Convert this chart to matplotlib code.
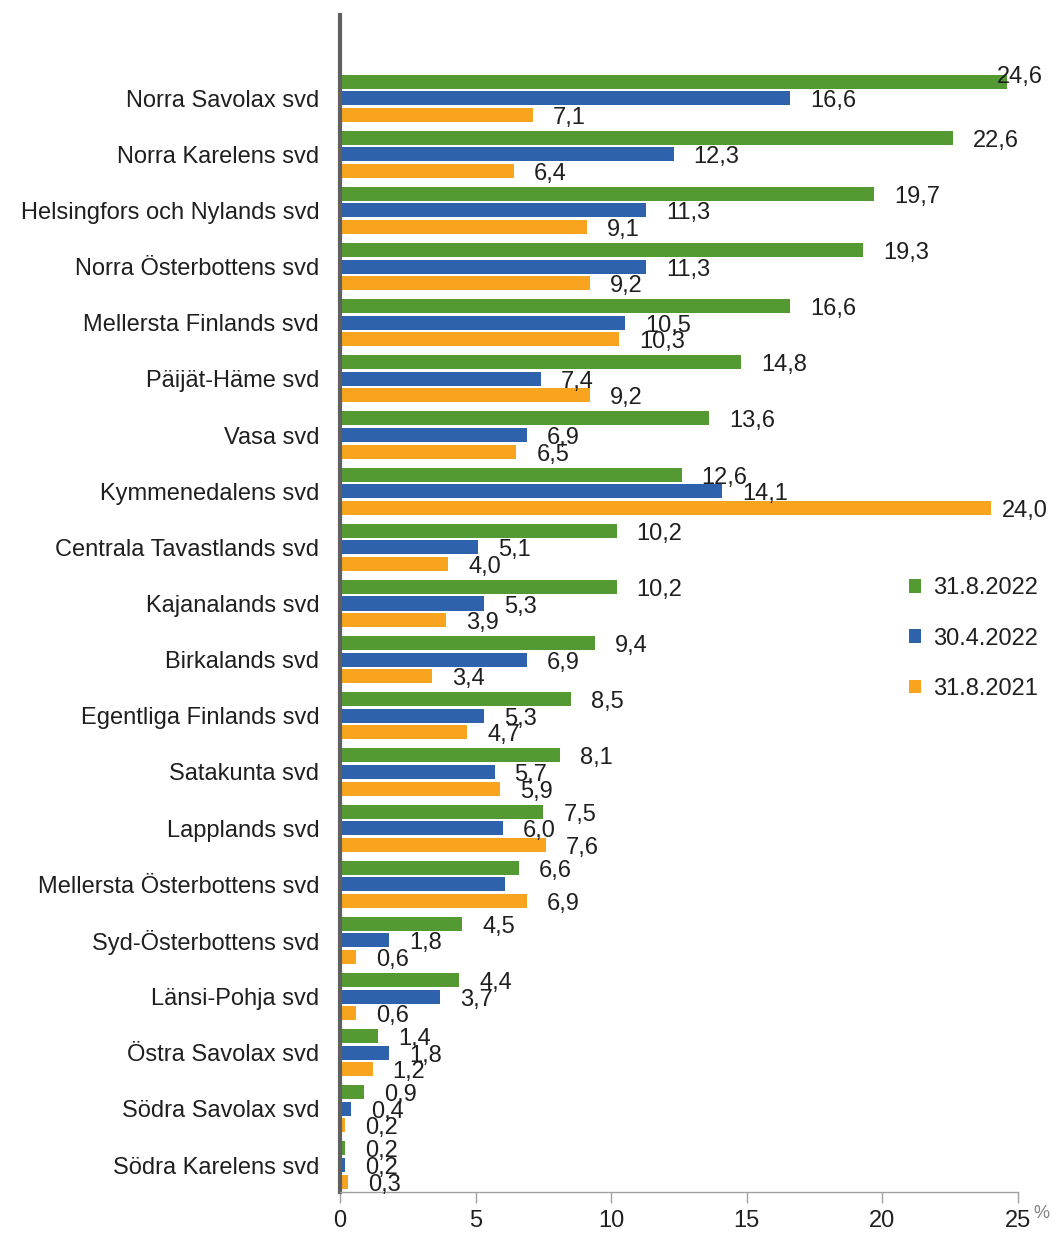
import matplotlib
matplotlib.use("Agg")
import matplotlib.pyplot as plt
import numpy as np

plt.rcParams['font.family'] = ['Liberation Sans', 'DejaVu Sans']

categories = ["Norra Savolax svd", "Norra Karelens svd", "Helsingfors och Nylands svd",
              "Norra Österbottens svd", "Mellersta Finlands svd", "Päijät-Häme svd",
              "Vasa svd", "Kymmenedalens svd", "Centrala Tavastlands svd", "Kajanalands svd",
              "Birkalands svd", "Egentliga Finlands svd", "Satakunta svd", "Lapplands svd",
              "Mellersta Österbottens svd", "Syd-Österbottens svd", "Länsi-Pohja svd",
              "Östra Savolax svd", "Södra Savolax svd", "Södra Karelens svd"]
aug2022 = [24.6, 22.6, 19.7, 19.3, 16.6, 14.8, 13.6, 12.6, 10.2, 10.2,
           9.4, 8.5, 8.1, 7.5, 6.6, 4.5, 4.4, 1.4, 0.9, 0.2]
apr2022 = [16.6, 12.3, 11.3, 11.3, 10.5, 7.4, 6.9, 14.1, 5.1, 5.3,
           6.9, 5.3, 5.7, 6.0, 6.1, 1.8, 3.7, 1.8, 0.4, 0.2]
aug2021 = [7.1, 6.4, 9.1, 9.2, 10.3, 9.2, 6.5, 24.0, 4.0, 3.9,
           3.4, 4.7, 5.9, 7.6, 6.9, 0.6, 0.6, 1.2, 0.2, 0.3]
# labels shown in the chart (None = no visible label)
aug2022_labels = aug2022
apr2022_labels = [16.6, 12.3, 11.3, 11.3, 10.5, 7.4, 6.9, 14.1, 5.1, 5.3,
                  6.9, 5.3, 5.7, 6.0, None, 1.8, 3.7, 1.8, 0.4, 0.2]
aug2021_labels = aug2021
series_names = ["31.8.2022", "30.4.2022", "31.8.2021"]
colors = ["#539A33", "#2F62AD", "#F8A41E"]
xticks = [0, 5, 10, 15, 20, 25]

W, H = 1053, 1233
fig = plt.figure(figsize=(W / 100, H / 100), dpi=100)
ax = fig.add_axes([340 / W, 1 - 1192 / H, (1018 - 340) / W, (1192 - 15) / H])

n = len(categories)
y = -np.arange(n)
off = 0.295
hgt = 0.25
series = [aug2022, apr2022, aug2021]
labels = [aug2022_labels, apr2022_labels, aug2021_labels]
offsets = [off, 0, -off]
fs = 17
txtc = '#1f1f1f'
for vals, labs, o, c, name in zip(series, labels, offsets, colors, series_names):
    ax.barh(y + o, vals, height=hgt, color=c, label=name, edgecolor='none')
    for yy, v, lv in zip(y + o, vals, labs):
        if lv is None:
            continue
        if v < 23.5:
            dx, dy = 20, -3
        elif c == colors[0]:
            dx, dy = -10, 5
        else:
            dx, dy = 11, -3
        ax.annotate(f"{lv:.1f}".replace('.', ','), xy=(v, yy), xytext=(dx, dy),
                    textcoords='offset pixels', ha='left', va='center',
                    fontsize=fs, color=txtc, annotation_clip=False)

ax.set_xlim(0, 25)
ax.set_ylim(-19.48, 1.48)
ax.set_yticks(y)
ax.set_yticklabels(categories, fontsize=fs, color=txtc)
ax.tick_params(axis='y', length=0, pad=15)
ax.set_xticks(xticks)
ax.set_xticklabels([str(t) for t in xticks], fontsize=fs, color=txtc)
ax.tick_params(axis='x', length=8, width=1, color='#a0a0a0', pad=5)
ax.spines['top'].set_visible(False)
ax.spines['right'].set_visible(False)
ax.spines['left'].set_color('#606060')
ax.spines['left'].set_linewidth(3)
ax.spines['bottom'].set_color('#a0a0a0')
ax.spines['bottom'].set_linewidth(1)

fig.text(1033 / W, 1 - 1213 / H, "%", fontsize=13, color='#808080', ha='left', va='center')

leg = ax.legend(loc='upper left', bbox_to_anchor=(888 / W, 1 - 556 / H),
                bbox_transform=fig.transFigure, frameon=False, fontsize=fs,
                handlelength=0.5, handleheight=0.5, handletextpad=0.5,
                labelspacing=1.2)
for t in leg.get_texts():
    t.set_color(txtc)

fig.savefig("out.png", dpi=100)
